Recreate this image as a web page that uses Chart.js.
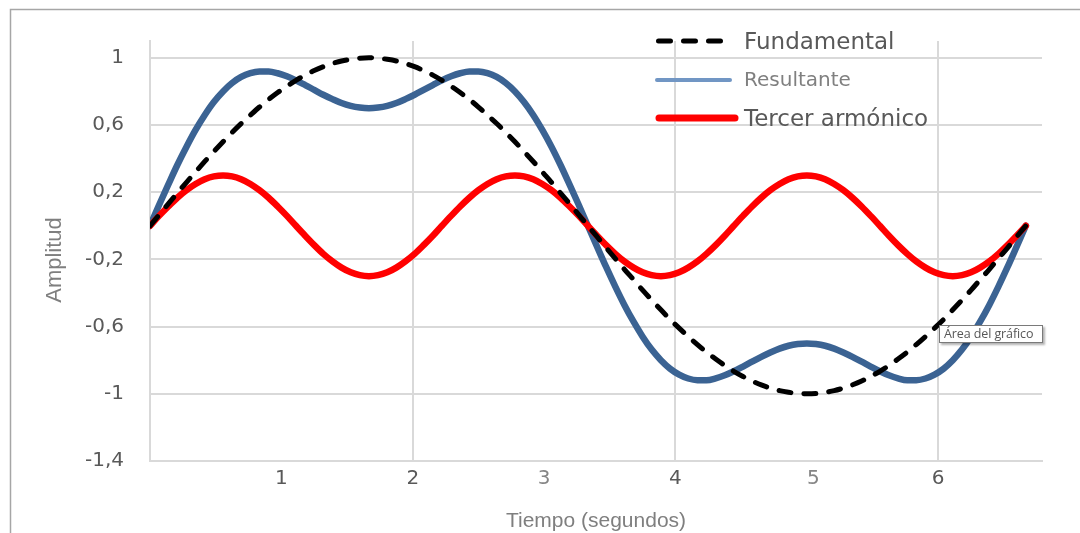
<!DOCTYPE html>
<html>
<head>
<meta charset="utf-8">
<script src="https://cdn.jsdelivr.net/npm/chart.js@4.4.0/dist/chart.umd.min.js"></script>
<style>
  html, body { margin: 0; padding: 0; background: #fff; }
  #wrap { position: relative; width: 1080px; height: 533px; overflow: hidden; }
  canvas { display: block; }
  #tip {
    position: absolute; left: 939px; top: 325px; width: 104px; height: 18px;
    box-sizing: border-box; border: 1px solid #7a7a7a; background: #fff;
    box-shadow: 2px 2px 2px rgba(0,0,0,0.3);
    font: 12.5px "Open Sans", sans-serif; color: #575757; line-height: 16px;
    padding-left: 4px; white-space: nowrap; letter-spacing: -0.1px;
  }
</style>
</head>
<body>
<div id="wrap">
  <canvas id="c" width="1080" height="533"></canvas>
  <div id="tip">Área del gráfico</div>
</div>
<script>
// Time samples (seconds)
const tiempo = [0, 0.069, 0.139, 0.208, 0.278, 0.347, 0.417, 0.486, 0.556, 0.625, 0.694, 0.764,
  0.833, 0.903, 0.972, 1.042, 1.111, 1.181, 1.25, 1.319, 1.389, 1.458, 1.528, 1.597,
  1.667, 1.736, 1.806, 1.875, 1.944, 2.014, 2.083, 2.153, 2.222, 2.292, 2.361, 2.431,
  2.5, 2.569, 2.639, 2.708, 2.778, 2.847, 2.917, 2.986, 3.056, 3.125, 3.194, 3.264,
  3.333, 3.403, 3.472, 3.542, 3.611, 3.681, 3.75, 3.819, 3.889, 3.958, 4.028, 4.097,
  4.167, 4.236, 4.306, 4.375, 4.444, 4.514, 4.583, 4.653, 4.722, 4.792, 4.861, 4.931,
  5, 5.069, 5.139, 5.208, 5.278, 5.347, 5.417, 5.486, 5.556, 5.625, 5.694, 5.764,
  5.833, 5.903, 5.972, 6.042, 6.111, 6.181, 6.25, 6.319, 6.389, 6.458, 6.528, 6.597, 6.667];

const fundamental = [0, 0.065, 0.131, 0.195, 0.259, 0.321, 0.383, 0.442, 0.5, 0.556, 0.609, 0.659,
  0.707, 0.752, 0.793, 0.831, 0.866, 0.897, 0.924, 0.947, 0.966, 0.981, 0.991, 0.998,
  1, 0.998, 0.991, 0.981, 0.966, 0.947, 0.924, 0.897, 0.866, 0.831, 0.793, 0.752,
  0.707, 0.659, 0.609, 0.556, 0.5, 0.442, 0.383, 0.321, 0.259, 0.195, 0.131, 0.065,
  0, -0.065, -0.131, -0.195, -0.259, -0.321, -0.383, -0.442, -0.5, -0.556, -0.609, -0.659,
  -0.707, -0.752, -0.793, -0.831, -0.866, -0.897, -0.924, -0.947, -0.966, -0.981, -0.991, -0.998,
  -1, -0.998, -0.991, -0.981, -0.966, -0.947, -0.924, -0.897, -0.866, -0.831, -0.793, -0.752,
  -0.707, -0.659, -0.609, -0.556, -0.5, -0.442, -0.383, -0.321, -0.259, -0.195, -0.131, -0.065, 0];

const tercerArmonico = [0, 0.059, 0.115, 0.167, 0.212, 0.249, 0.277, 0.294, 0.3, 0.294, 0.277, 0.249,
  0.212, 0.167, 0.115, 0.059, 0, -0.059, -0.115, -0.167, -0.212, -0.249, -0.277, -0.294,
  -0.3, -0.294, -0.277, -0.249, -0.212, -0.167, -0.115, -0.059, 0, 0.059, 0.115, 0.167,
  0.212, 0.249, 0.277, 0.294, 0.3, 0.294, 0.277, 0.249, 0.212, 0.167, 0.115, 0.059,
  0, -0.059, -0.115, -0.167, -0.212, -0.249, -0.277, -0.294, -0.3, -0.294, -0.277, -0.249,
  -0.212, -0.167, -0.115, -0.059, 0, 0.059, 0.115, 0.167, 0.212, 0.249, 0.277, 0.294,
  0.3, 0.294, 0.277, 0.249, 0.212, 0.167, 0.115, 0.059, 0, -0.059, -0.115, -0.167,
  -0.212, -0.249, -0.277, -0.294, -0.3, -0.294, -0.277, -0.249, -0.212, -0.167, -0.115, -0.059, 0];

const resultante = [0, 0.124, 0.245, 0.362, 0.471, 0.571, 0.66, 0.737, 0.8, 0.85, 0.886, 0.909,
  0.919, 0.919, 0.908, 0.89, 0.866, 0.838, 0.809, 0.78, 0.754, 0.731, 0.714, 0.704,
  0.7, 0.704, 0.714, 0.731, 0.754, 0.78, 0.809, 0.838, 0.866, 0.89, 0.908, 0.919,
  0.919, 0.909, 0.886, 0.85, 0.8, 0.737, 0.66, 0.571, 0.471, 0.362, 0.245, 0.124,
  0, -0.124, -0.245, -0.362, -0.471, -0.571, -0.66, -0.737, -0.8, -0.85, -0.886, -0.909,
  -0.919, -0.919, -0.908, -0.89, -0.866, -0.838, -0.809, -0.78, -0.754, -0.731, -0.714, -0.704,
  -0.7, -0.704, -0.714, -0.731, -0.754, -0.78, -0.809, -0.838, -0.866, -0.89, -0.908, -0.919,
  -0.919, -0.909, -0.886, -0.85, -0.8, -0.737, -0.66, -0.571, -0.471, -0.362, -0.245, -0.124, 0];

// Axis ticks
const xTickValues = [1, 2, 3, 4, 5.05, 6];
const xTickLabels = ['1', '2', '3', '4', '5', '6'];
const xGridValues = [2, 4, 6];
const yTickValues = [-1.4, -1, -0.6, -0.2, 0.2, 0.6, 1];

const series = (ys) => tiempo.map((t, i) => ({ x: t, y: ys[i] }));

// Frame, axis titles and legend
const decor = {
  id: 'decor',
  beforeDraw(chart) {
    const ctx = chart.ctx;
    ctx.save();
    ctx.fillStyle = '#fff';
    ctx.fillRect(0, 0, chart.width, chart.height);
    ctx.strokeStyle = '#a6a6a6';
    ctx.lineWidth = 1.5;
    ctx.beginPath();
    ctx.moveTo(10.5, 533);
    ctx.lineTo(10.5, 9.5);
    ctx.lineTo(1080, 9.5);
    ctx.stroke();
    ctx.restore();
  },
  afterDraw(chart) {
    const ctx = chart.ctx;
    ctx.save();
    // axis titles
    ctx.fillStyle = '#7f7f7f';
    ctx.font = '21px "Liberation Sans", Arial, sans-serif';
    ctx.textAlign = 'center';
    ctx.textBaseline = 'alphabetic';
    ctx.fillText('Tiempo (segundos)', 596, 527);
    ctx.save();
    ctx.translate(61, 260);
    ctx.rotate(-Math.PI / 2);
    ctx.font = '22px "Liberation Sans", Arial, sans-serif';
    ctx.fillText('Amplitud', 0, 0);
    ctx.restore();

    // legend
    ctx.textAlign = 'left';
    ctx.lineCap = 'round';
    const [dsF, dsT] = chart.data.datasets;
    // Fundamental
    ctx.strokeStyle = dsF.borderColor;
    ctx.lineWidth = 5;
    ctx.setLineDash([12, 13]);
    ctx.beginPath(); ctx.moveTo(658.5, 41); ctx.lineTo(725.5, 41); ctx.stroke();
    ctx.setLineDash([]);
    ctx.fillStyle = '#595959';
    ctx.font = '23px "DejaVu Sans", sans-serif';
    ctx.fillText(dsF.label, 744, 49);
    // Resultante
    ctx.strokeStyle = '#7196c4';
    ctx.lineWidth = 4;
    ctx.beginPath(); ctx.moveTo(657, 80); ctx.lineTo(730, 80); ctx.stroke();
    ctx.fillStyle = '#808080';
    ctx.font = '20px "DejaVu Sans", sans-serif';
    ctx.fillText('Resultante', 744, 86);
    // Tercer armónico
    ctx.strokeStyle = dsT.borderColor;
    ctx.lineWidth = 7;
    ctx.beginPath(); ctx.moveTo(659, 118); ctx.lineTo(735, 118); ctx.stroke();
    ctx.fillStyle = '#595959';
    ctx.font = '23px "DejaVu Sans", sans-serif';
    ctx.fillText(dsT.label, 744, 126);
    ctx.restore();
  }
};

const lineStyle = { pointRadius: 0, cubicInterpolationMode: 'monotone', fill: false, borderCapStyle: 'round', borderJoinStyle: 'round' };

new Chart(document.getElementById('c'), {
  type: 'line',
  data: {
    datasets: [
      Object.assign({
        label: 'Fundamental', data: series(fundamental), order: 0,
        borderColor: '#000000', borderWidth: 5, borderDash: [12, 13]
      }, lineStyle),
      Object.assign({
        label: 'Tercer armónico', data: series(tercerArmonico), order: 1,
        borderColor: '#ff0000', borderWidth: 6.5
      }, lineStyle),
      Object.assign({
        label: 'Resultante', data: series(resultante), order: 2,
        borderColor: '#3b6393', borderWidth: 6.5
      }, lineStyle)
    ]
  },
  options: {
    responsive: false,
    animation: false,
    devicePixelRatio: 1,
    layout: { padding: { top: 41, right: 38, left: 0, bottom: 0 } },
    plugins: { legend: { display: false }, tooltip: { enabled: false } },
    scales: {
      x: {
        type: 'linear', min: 0, max: 6.79,
        afterFit(s) { s.height = 72; },
        afterBuildTicks(s) { s.ticks = xTickValues.map(v => ({ value: v })); },
        grid: {
          color: c => (c.tick && xGridValues.includes(c.tick.value)) ? '#d9d9d9' : 'rgba(0,0,0,0)',
          lineWidth: 2, drawTicks: false
        },
        border: { display: true, color: '#d9d9d9', width: 2 },
        ticks: {
          padding: 6, autoSkip: false, maxRotation: 0,
          font: { family: 'DejaVu Sans', size: 20 },
          color: c => (c.index === 2 || c.index === 4) ? '#858585' : '#595959',
          callback: (v, i) => xTickLabels[i]
        }
      },
      y: {
        min: -1.4, max: 1.1,
        afterFit(s) { s.width = 150; },
        afterBuildTicks(s) { s.ticks = yTickValues.map(v => ({ value: v })); },
        grid: { color: '#d9d9d9', lineWidth: 2, drawTicks: false },
        border: { display: true, color: '#d9d9d9', width: 2 },
        ticks: {
          padding: 26,
          font: { family: 'DejaVu Sans', size: 20 },
          color: '#595959',
          callback: v => String(v).replace('.', ',')
        }
      }
    }
  },
  plugins: [decor]
});
</script>
</body>
</html>
